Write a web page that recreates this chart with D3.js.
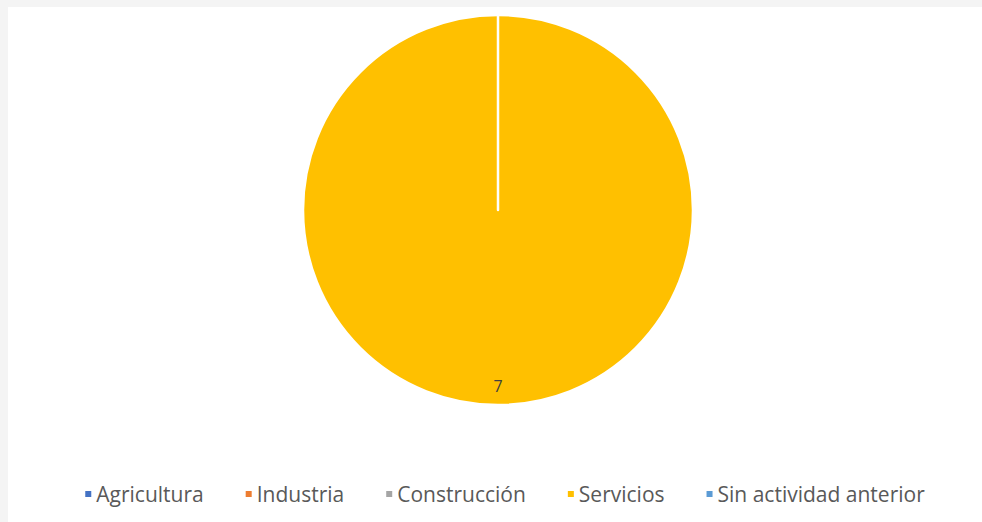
<!DOCTYPE html>
<html><head><meta charset="utf-8">
<script src="https://cdn.jsdelivr.net/npm/d3@7"></script>
<style>html,body{margin:0;padding:0;background:#f4f4f4;}svg{display:block;}</style>
</head><body>
<svg id="chart" width="982" height="522"></svg>
<script>
const categories = ["Agricultura", "Industria", "Construcción", "Servicios", "Sin actividad anterior"];
const values = [0, 0, 0, 7, 0];
const colors = ["#4472C4", "#ED7D31", "#A5A5A5", "#FFC000", "#5B9BD5"];

const svg = d3.select("#chart");
svg.append("rect").attr("x", 0).attr("y", 0).attr("width", 982).attr("height", 522).attr("fill", "#f4f4f4");
svg.append("rect").attr("x", 8).attr("y", 7).attr("width", 974).attr("height", 515).attr("fill", "#ffffff");

const cx = 498, cy = 210, r = 195;
const data = categories.map((c, i) => ({ name: c, value: values[i], color: colors[i] }));
const pie = d3.pie().value(d => d.value).sort(null);
const arcs = pie(data);
const arc = d3.arc().innerRadius(0).outerRadius(r);
const g = svg.append("g").attr("transform", `translate(${cx},${cy})`);
g.selectAll("path").data(arcs).join("path")
  .attr("d", arc)
  .attr("fill", d => d.data.color)
  .attr("stroke", "#ffffff")
  .attr("stroke-width", 2.5)
  .attr("stroke-linejoin", "round");

const labelArc = d3.arc().innerRadius(r * 0.9).outerRadius(r * 0.9);
g.selectAll("text.lbl").data(arcs.filter(d => d.value > 0)).join("text")
  .attr("class", "lbl")
  .attr("transform", d => `translate(${labelArc.centroid(d)})`)
  .attr("text-anchor", "middle")
  .attr("dominant-baseline", "central")
  .attr("font-family", "'Open Sans', sans-serif")
  .attr("font-size", 16)
  .attr("fill", "#404040")
  .text(d => d.value);

// Legend
const legY = 494, fontSize = 21, gap = 42, mark = 6, markGap = 5;
const leg = svg.append("g");
const items = leg.selectAll("g").data(data).join("g");
items.append("rect").attr("width", mark).attr("height", mark).attr("y", legY - mark / 2).attr("fill", d => d.color);
items.append("text")
  .attr("x", mark + markGap).attr("y", legY)
  .attr("dominant-baseline", "central")
  .attr("font-family", "'Open Sans', sans-serif")
  .attr("font-size", fontSize)
  .attr("fill", "#595959")
  .text(d => d.name);
const widths = [];
items.each(function () { widths.push(mark + markGap + d3.select(this).select("text").node().getComputedTextLength()); });
const total = d3.sum(widths) + gap * (widths.length - 1);
let x = 505 - total / 2;
items.each(function (d, i) { d3.select(this).attr("transform", `translate(${x},0)`); x += widths[i] + gap; });
</script>
</body></html>
